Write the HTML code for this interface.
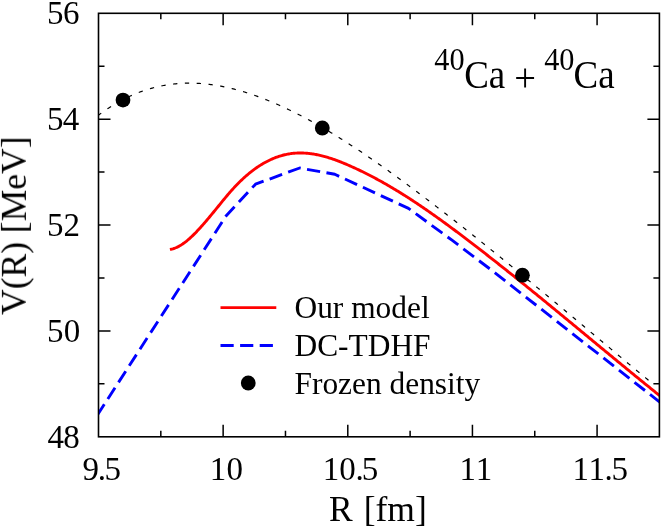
<!DOCTYPE html>
<html><head><meta charset="utf-8"><title>40Ca + 40Ca potential</title>
<style>
html,body{margin:0;padding:0;background:#fff;}
body{width:664px;height:528px;overflow:hidden;}
svg{display:block;}
text{font-family:"Liberation Serif",serif;fill:#000;}
</style></head><body>
<svg width="664" height="528" viewBox="0 0 664 528">
<rect width="664" height="528" fill="#fff"/>
<defs><clipPath id="c"><rect x="98.5" y="13.3" width="560.9" height="423.5"/></clipPath></defs>
<g clip-path="url(#c)" fill="none">
<path d="M98.30,115.30 L99.42,114.46 L100.55,113.63 L101.67,112.82 L102.80,112.01 L103.92,111.22 L105.05,110.44 L106.17,109.67 L107.30,108.91 L108.42,108.17 L109.54,107.44 L110.67,106.72 L111.79,106.01 L112.92,105.32 L114.04,104.63 L115.17,103.96 L116.29,103.30 L117.42,102.65 L118.54,102.02 L119.66,101.39 L120.79,100.78 L121.91,100.17 L123.04,99.58 L124.16,99.00 L125.29,98.44 L126.41,97.88 L127.54,97.33 L128.66,96.80 L129.78,96.28 L130.91,95.76 L132.03,95.26 L133.16,94.77 L134.28,94.29 L135.41,93.83 L136.53,93.37 L137.66,92.92 L138.78,92.49 L139.90,92.06 L141.03,91.65 L142.15,91.24 L143.28,90.85 L144.40,90.47 L145.53,90.09 L146.65,89.73 L147.78,89.38 L148.90,89.04 L150.02,88.71 L151.15,88.38 L152.27,88.07 L153.40,87.77 L154.52,87.48 L155.65,87.20 L156.77,86.93 L157.90,86.67 L159.02,86.42 L160.14,86.17 L161.27,85.94 L162.39,85.72 L163.52,85.51 L164.64,85.30 L165.77,85.11 L166.89,84.92 L168.02,84.75 L169.14,84.58 L170.26,84.43 L171.39,84.28 L172.51,84.14 L173.64,84.01 L174.76,83.89 L175.89,83.78 L177.01,83.68 L178.14,83.59 L179.26,83.50 L180.38,83.43 L181.51,83.36 L182.63,83.30 L183.76,83.25 L184.88,83.21 L186.01,83.18 L187.13,83.16 L188.26,83.14 L189.38,83.14 L190.50,83.14 L191.63,83.15 L192.75,83.17 L193.88,83.19 L195.00,83.23 L196.13,83.27 L197.25,83.32 L198.38,83.38 L199.50,83.45 L200.62,83.52 L201.75,83.60 L202.87,83.69 L204.00,83.79 L205.12,83.90 L206.25,84.01 L207.37,84.13 L208.50,84.26 L209.62,84.40 L210.74,84.54 L211.87,84.69 L212.99,84.85 L214.12,85.01 L215.24,85.19 L216.37,85.36 L217.49,85.55 L218.62,85.75 L219.74,85.95 L220.86,86.15 L221.99,86.37 L223.11,86.59 L224.24,86.82 L225.36,87.05 L226.49,87.30 L227.61,87.54 L228.74,87.80 L229.86,88.06 L230.98,88.33 L232.11,88.60 L233.23,88.88 L234.36,89.17 L235.48,89.46 L236.61,89.76 L237.73,90.07 L238.86,90.38 L239.98,90.70 L241.11,91.03 L242.23,91.36 L243.35,91.69 L244.48,92.03 L245.60,92.38 L246.73,92.74 L247.85,93.09 L248.98,93.46 L250.10,93.83 L251.23,94.21 L252.35,94.59 L253.47,94.98 L254.60,95.37 L255.72,95.77 L256.85,96.17 L257.97,96.58 L259.10,96.99 L260.22,97.41 L261.35,97.83 L262.47,98.26 L263.59,98.70 L264.72,99.14 L265.84,99.58 L266.97,100.03 L268.09,100.48 L269.22,100.94 L270.34,101.40 L271.47,101.87 L272.59,102.34 L273.71,102.82 L274.84,103.30 L275.96,103.79 L277.09,104.28 L278.21,104.77 L279.34,105.27 L280.46,105.78 L281.59,106.29 L282.71,106.80 L283.83,107.32 L284.96,107.84 L286.08,108.37 L287.21,108.90 L288.33,109.43 L289.46,109.97 L290.58,110.52 L291.71,111.06 L292.83,111.61 L293.95,112.17 L295.08,112.73 L296.20,113.29 L297.33,113.86 L298.45,114.44 L299.58,115.01 L300.70,115.59 L301.83,116.18 L302.95,116.76 L304.07,117.36 L305.20,117.95 L306.32,118.55 L307.45,119.16 L308.57,119.76 L309.70,120.37 L310.82,120.99 L311.95,121.61 L313.07,122.23 L314.19,122.86 L315.32,123.49 L316.44,124.12 L317.57,124.76 L318.69,125.40 L319.82,126.04 L320.94,126.69 L322.07,127.34 L323.19,127.99 L324.31,128.65 L325.44,129.31 L326.56,129.97 L327.69,130.64 L328.81,131.31 L329.94,131.99 L331.06,132.66 L332.19,133.34 L333.31,134.03 L334.43,134.72 L335.56,135.41 L336.68,136.10 L337.81,136.79 L338.93,137.49 L340.06,138.20 L341.18,138.90 L342.31,139.61 L343.43,140.32 L344.55,141.03 L345.68,141.75 L346.80,142.47 L347.93,143.19 L349.05,143.92 L350.18,144.65 L351.30,145.38 L352.43,146.11 L353.55,146.85 L354.67,147.59 L355.80,148.33 L356.92,149.07 L358.05,149.82 L359.17,150.57 L360.30,151.32 L361.42,152.07 L362.55,152.83 L363.67,153.59 L364.79,154.35 L365.92,155.12 L367.04,155.88 L368.17,156.65 L369.29,157.42 L370.42,158.19 L371.54,158.97 L372.67,159.75 L373.79,160.53 L374.91,161.31 L376.04,162.09 L377.16,162.88 L378.29,163.67 L379.41,164.46 L380.54,165.25 L381.66,166.04 L382.79,166.84 L383.91,167.64 L385.03,168.44 L386.16,169.24 L387.28,170.04 L388.41,170.85 L389.53,171.66 L390.66,172.46 L391.78,173.28 L392.91,174.09 L394.03,174.90 L395.15,175.72 L396.28,176.54 L397.40,177.35 L398.53,178.17 L399.65,179.00 L400.78,179.82 L401.90,180.65 L403.03,181.47 L404.15,182.30 L405.27,183.13 L406.40,183.96 L407.52,184.79 L408.65,185.63 L409.77,186.46 L410.90,187.30 L412.02,188.13 L413.15,188.97 L414.27,189.81 L415.39,190.65 L416.52,191.50 L417.64,192.34 L418.77,193.18 L419.89,194.03 L421.02,194.88 L422.14,195.73 L423.27,196.58 L424.39,197.43 L425.51,198.28 L426.64,199.13 L427.76,199.99 L428.89,200.84 L430.01,201.70 L431.14,202.56 L432.26,203.42 L433.39,204.28 L434.51,205.14 L435.63,206.00 L436.76,206.86 L437.88,207.73 L439.01,208.59 L440.13,209.46 L441.26,210.33 L442.38,211.20 L443.51,212.07 L444.63,212.94 L445.75,213.81 L446.88,214.68 L448.00,215.56 L449.13,216.43 L450.25,217.31 L451.38,218.18 L452.50,219.06 L453.63,219.94 L454.75,220.82 L455.87,221.70 L457.00,222.59 L458.12,223.47 L459.25,224.35 L460.37,225.24 L461.50,226.12 L462.62,227.01 L463.75,227.90 L464.87,228.79 L465.99,229.67 L467.12,230.57 L468.24,231.46 L469.37,232.35 L470.49,233.24 L471.62,234.14 L472.74,235.03 L473.87,235.93 L474.99,236.82 L476.11,237.72 L477.24,238.62 L478.36,239.52 L479.49,240.42 L480.61,241.32 L481.74,242.22 L482.86,243.12 L483.99,244.02 L485.11,244.92 L486.23,245.83 L487.36,246.73 L488.48,247.64 L489.61,248.55 L490.73,249.45 L491.86,250.36 L492.98,251.27 L494.11,252.18 L495.23,253.09 L496.35,254.00 L497.48,254.91 L498.60,255.82 L499.73,256.74 L500.85,257.65 L501.98,258.56 L503.10,259.48 L504.23,260.39 L505.35,261.31 L506.47,262.23 L507.60,263.14 L508.72,264.06 L509.85,264.98 L510.97,265.90 L512.10,266.82 L513.22,267.74 L514.35,268.66 L515.47,269.58 L516.59,270.50 L517.72,271.43 L518.84,272.35 L519.97,273.27 L521.09,274.20 L522.22,275.12 L523.34,276.05 L524.47,276.97 L525.59,277.90 L526.72,278.82 L527.84,279.75 L528.96,280.68 L530.09,281.61 L531.21,282.53 L532.34,283.46 L533.46,284.39 L534.59,285.32 L535.71,286.25 L536.84,287.18 L537.96,288.11 L539.08,289.04 L540.21,289.98 L541.33,290.91 L542.46,291.84 L543.58,292.77 L544.71,293.70 L545.83,294.64 L546.96,295.57 L548.08,296.51 L549.20,297.44 L550.33,298.37 L551.45,299.31 L552.58,300.25 L553.70,301.18 L554.83,302.12 L555.95,303.05 L557.08,303.99 L558.20,304.93 L559.32,305.86 L560.45,306.80 L561.57,307.74 L562.70,308.67 L563.82,309.61 L564.95,310.55 L566.07,311.49 L567.20,312.43 L568.32,313.37 L569.44,314.30 L570.57,315.24 L571.69,316.18 L572.82,317.12 L573.94,318.06 L575.07,319.00 L576.19,319.94 L577.32,320.88 L578.44,321.82 L579.56,322.76 L580.69,323.70 L581.81,324.64 L582.94,325.58 L584.06,326.52 L585.19,327.46 L586.31,328.40 L587.44,329.34 L588.56,330.28 L589.68,331.22 L590.81,332.17 L591.93,333.11 L593.06,334.05 L594.18,334.99 L595.31,335.93 L596.43,336.87 L597.56,337.81 L598.68,338.75 L599.80,339.69 L600.93,340.63 L602.05,341.57 L603.18,342.51 L604.30,343.45 L605.43,344.39 L606.55,345.33 L607.68,346.27 L608.80,347.21 L609.92,348.16 L611.05,349.09 L612.17,350.03 L613.30,350.97 L614.42,351.91 L615.55,352.85 L616.67,353.79 L617.80,354.73 L618.92,355.67 L620.04,356.61 L621.17,357.55 L622.29,358.49 L623.42,359.43 L624.54,360.36 L625.67,361.30 L626.79,362.24 L627.92,363.18 L629.04,364.11 L630.16,365.05 L631.29,365.99 L632.41,366.92 L633.54,367.86 L634.66,368.80 L635.79,369.73 L636.91,370.67 L638.04,371.60 L639.16,372.54 L640.28,373.47 L641.41,374.40 L642.53,375.34 L643.66,376.27 L644.78,377.20 L645.91,378.14 L647.03,379.07 L648.16,380.00 L649.28,380.93 L650.40,381.86" stroke="#000" stroke-width="1.2" stroke-dasharray="4.3 7.51" stroke-dashoffset="0.63"/>
<path d="M97.10,415.50 L226.00,216.00 L255.50,184.20 L299.70,168.00 L334.80,174.30 L408.50,208.40 L452.00,240.20 L495.00,272.80 L560.00,323.90 L659.40,401.80 L668.00,408.50" stroke="#0000ff" stroke-width="2.9" stroke-dasharray="13.3 6.43" stroke-linejoin="round"/>
<path d="M169.90,249.43 L170.88,249.27 L171.86,249.05 L172.84,248.80 L173.82,248.50 L174.80,248.15 L175.79,247.76 L176.77,247.34 L177.75,246.87 L178.73,246.36 L179.71,245.82 L180.69,245.24 L181.67,244.63 L182.65,243.98 L183.63,243.29 L184.61,242.58 L185.60,241.83 L186.58,241.06 L187.56,240.25 L188.54,239.42 L189.52,238.56 L190.50,237.67 L191.48,236.77 L192.46,235.83 L193.44,234.88 L194.42,233.90 L195.41,232.91 L196.39,231.89 L197.37,230.86 L198.35,229.81 L199.33,228.75 L200.31,227.67 L201.29,226.58 L202.27,225.47 L203.25,224.36 L204.23,223.23 L205.21,222.09 L206.20,220.95 L207.18,219.79 L208.16,218.63 L209.14,217.46 L210.12,216.28 L211.10,215.10 L212.08,213.91 L213.06,212.72 L214.04,211.53 L215.02,210.33 L216.01,209.13 L216.99,207.92 L217.97,206.72 L218.95,205.51 L219.93,204.31 L220.91,203.10 L221.89,201.90 L222.87,200.70 L223.85,199.51 L224.83,198.32 L225.81,197.14 L226.80,195.96 L227.78,194.80 L228.76,193.65 L229.74,192.51 L230.72,191.39 L231.70,190.28 L232.68,189.18 L233.66,188.11 L234.64,187.05 L235.62,186.01 L236.61,184.98 L237.59,183.97 L238.57,182.98 L239.55,182.01 L240.53,181.05 L241.51,180.11 L242.49,179.19 L243.47,178.28 L244.45,177.39 L245.43,176.51 L246.42,175.66 L247.40,174.82 L248.38,173.99 L249.36,173.18 L250.34,172.39 L251.32,171.62 L252.30,170.86 L253.28,170.12 L254.26,169.39 L255.24,168.68 L256.22,167.99 L257.21,167.31 L258.19,166.65 L259.17,166.01 L260.15,165.38 L261.13,164.76 L262.11,164.17 L263.09,163.59 L264.07,163.02 L265.05,162.47 L266.03,161.94 L267.02,161.42 L268.00,160.92 L268.98,160.44 L269.96,159.97 L270.94,159.51 L271.92,159.07 L272.90,158.65 L273.88,158.24 L274.86,157.85 L275.84,157.47 L276.82,157.11 L277.81,156.77 L278.79,156.44 L279.77,156.12 L280.75,155.82 L281.73,155.54 L282.71,155.27 L283.69,155.02 L284.67,154.78 L285.65,154.56 L286.63,154.35 L287.62,154.16 L288.60,153.98 L289.58,153.81 L290.56,153.67 L291.54,153.53 L292.52,153.41 L293.50,153.31 L294.48,153.22 L295.46,153.15 L296.44,153.09 L297.43,153.04 L298.41,153.01 L299.39,152.99 L300.37,152.98 L301.35,152.99 L302.33,153.01 L303.31,153.04 L304.29,153.08 L305.27,153.14 L306.25,153.21 L307.23,153.29 L308.22,153.39 L309.20,153.49 L310.18,153.61 L311.16,153.74 L312.14,153.88 L313.12,154.03 L314.10,154.19 L315.08,154.36 L316.06,154.54 L317.04,154.73 L318.03,154.94 L319.01,155.15 L319.99,155.37 L320.97,155.60 L321.95,155.84 L322.93,156.09 L323.91,156.35 L324.89,156.62 L325.87,156.90 L326.85,157.18 L327.83,157.48 L328.82,157.78 L329.80,158.09 L330.78,158.40 L331.76,158.73 L332.74,159.06 L333.72,159.40 L334.70,159.74 L335.68,160.10 L336.66,160.46 L337.64,160.82 L338.63,161.19 L339.61,161.57 L340.59,161.95 L341.57,162.34 L342.55,162.74 L343.53,163.14 L344.51,163.54 L345.49,163.95 L346.47,164.37 L347.45,164.79 L348.44,165.21 L349.42,165.64 L350.40,166.07 L351.38,166.51 L352.36,166.95 L353.34,167.39 L354.32,167.84 L355.30,168.29 L356.28,168.75 L357.26,169.20 L358.24,169.67 L359.23,170.13 L360.21,170.60 L361.19,171.08 L362.17,171.55 L363.15,172.03 L364.13,172.52 L365.11,173.01 L366.09,173.50 L367.07,173.99 L368.05,174.49 L369.04,174.99 L370.02,175.50 L371.00,176.01 L371.98,176.52 L372.96,177.04 L373.94,177.56 L374.92,178.08 L375.90,178.60 L376.88,179.13 L377.86,179.67 L378.84,180.20 L379.83,180.74 L380.81,181.29 L381.79,181.83 L382.77,182.38 L383.75,182.93 L384.73,183.49 L385.71,184.05 L386.69,184.61 L387.67,185.18 L388.65,185.75 L389.64,186.32 L390.62,186.89 L391.60,187.47 L392.58,188.05 L393.56,188.64 L394.54,189.23 L395.52,189.82 L396.50,190.41 L397.48,191.01 L398.46,191.61 L399.45,192.21 L400.43,192.82 L401.41,193.43 L402.39,194.04 L403.37,194.65 L404.35,195.27 L405.33,195.89 L406.31,196.51 L407.29,197.14 L408.27,197.77 L409.25,198.40 L410.24,199.03 L411.22,199.67 L412.20,200.31 L413.18,200.96 L414.16,201.60 L415.14,202.25 L416.12,202.90 L417.10,203.55 L418.08,204.21 L419.06,204.87 L420.05,205.53 L421.03,206.19 L422.01,206.86 L422.99,207.53 L423.97,208.20 L424.95,208.87 L425.93,209.55 L426.91,210.23 L427.89,210.91 L428.87,211.59 L429.85,212.27 L430.84,212.96 L431.82,213.65 L432.80,214.34 L433.78,215.03 L434.76,215.73 L435.74,216.42 L436.72,217.12 L437.70,217.82 L438.68,218.53 L439.66,219.23 L440.65,219.94 L441.63,220.65 L442.61,221.36 L443.59,222.07 L444.57,222.78 L445.55,223.50 L446.53,224.22 L447.51,224.94 L448.49,225.66 L449.47,226.38 L450.46,227.10 L451.44,227.83 L452.42,228.55 L453.40,229.28 L454.38,230.01 L455.36,230.74 L456.34,231.48 L457.32,232.21 L458.30,232.95 L459.28,233.68 L460.26,234.42 L461.25,235.16 L462.23,235.90 L463.21,236.64 L464.19,237.38 L465.17,238.13 L466.15,238.87 L467.13,239.62 L468.11,240.36 L469.09,241.11 L470.07,241.86 L471.06,242.61 L472.04,243.36 L473.02,244.11 L474.00,244.87 L474.98,245.62 L475.96,246.38 L476.94,247.13 L477.92,247.89 L478.90,248.65 L479.88,249.41 L480.86,250.17 L481.85,250.93 L482.83,251.69 L483.81,252.45 L484.79,253.21 L485.77,253.98 L486.75,254.74 L487.73,255.51 L488.71,256.28 L489.69,257.04 L490.67,257.81 L491.66,258.58 L492.64,259.35 L493.62,260.12 L494.60,260.89 L495.58,261.67 L496.56,262.44 L497.54,263.22 L498.52,263.99 L499.50,264.77 L500.48,265.54 L501.47,266.32 L502.45,267.10 L503.43,267.88 L504.41,268.66 L505.39,269.44 L506.37,270.22 L507.35,271.00 L508.33,271.78 L509.31,272.57 L510.29,273.35 L511.27,274.13 L512.26,274.92 L513.24,275.70 L514.22,276.49 L515.20,277.28 L516.18,278.07 L517.16,278.85 L518.14,279.64 L519.12,280.43 L520.10,281.22 L521.08,282.01 L522.07,282.81 L523.05,283.60 L524.03,284.39 L525.01,285.18 L525.99,285.98 L526.97,286.77 L527.95,287.57 L528.93,288.36 L529.91,289.16 L530.89,289.95 L531.87,290.75 L532.86,291.55 L533.84,292.34 L534.82,293.14 L535.80,293.94 L536.78,294.74 L537.76,295.54 L538.74,296.34 L539.72,297.14 L540.70,297.94 L541.68,298.74 L542.67,299.54 L543.65,300.35 L544.63,301.15 L545.61,301.95 L546.59,302.75 L547.57,303.56 L548.55,304.36 L549.53,305.17 L550.51,305.97 L551.49,306.78 L552.48,307.58 L553.46,308.39 L554.44,309.19 L555.42,310.00 L556.40,310.80 L557.38,311.61 L558.36,312.42 L559.34,313.23 L560.32,314.03 L561.30,314.84 L562.28,315.65 L563.27,316.46 L564.25,317.27 L565.23,318.07 L566.21,318.88 L567.19,319.69 L568.17,320.50 L569.15,321.31 L570.13,322.12 L571.11,322.93 L572.09,323.74 L573.08,324.55 L574.06,325.36 L575.04,326.17 L576.02,326.98 L577.00,327.79 L577.98,328.60 L578.96,329.41 L579.94,330.22 L580.92,331.03 L581.90,331.85 L582.88,332.66 L583.87,333.47 L584.85,334.28 L585.83,335.09 L586.81,335.90 L587.79,336.71 L588.77,337.52 L589.75,338.33 L590.73,339.15 L591.71,339.96 L592.69,340.77 L593.68,341.58 L594.66,342.39 L595.64,343.20 L596.62,344.01 L597.60,344.82 L598.58,345.63 L599.56,346.45 L600.54,347.26 L601.52,348.07 L602.50,348.88 L603.49,349.69 L604.47,350.50 L605.45,351.31 L606.43,352.12 L607.41,352.93 L608.39,353.74 L609.37,354.55 L610.35,355.36 L611.33,356.17 L612.31,356.98 L613.29,357.78 L614.28,358.59 L615.26,359.40 L616.24,360.21 L617.22,361.02 L618.20,361.82 L619.18,362.63 L620.16,363.44 L621.14,364.25 L622.12,365.05 L623.10,365.86 L624.09,366.67 L625.07,367.47 L626.05,368.28 L627.03,369.08 L628.01,369.89 L628.99,370.69 L629.97,371.50 L630.95,372.30 L631.93,373.10 L632.91,373.91 L633.89,374.71 L634.88,375.51 L635.86,376.31 L636.84,377.11 L637.82,377.92 L638.80,378.72 L639.78,379.52 L640.76,380.32 L641.74,381.12 L642.72,381.91 L643.70,382.71 L644.69,383.51 L645.67,384.31 L646.65,385.11 L647.63,385.90 L648.61,386.70 L649.59,387.49 L650.57,388.29 L651.55,389.08 L652.53,389.88 L653.51,390.67 L654.50,391.46 L655.48,392.26 L656.46,393.05 L657.44,393.84 L658.42,394.63 L659.40,395.42 L668.00,402.54" stroke="#ff0000" stroke-width="2.9"/>
</g>
<g fill="#000"><circle cx="123" cy="100.1" r="7.4"/><circle cx="322.3" cy="128.0" r="7.4"/><circle cx="522.4" cy="275.2" r="7.4"/><circle cx="248.25" cy="383" r="7.4"/></g>
<path d="M160.82,436.8 v-6 M160.82,13.3 v6 M223.14,436.8 v-12 M223.14,13.3 v12 M285.47,436.8 v-6 M285.47,13.3 v6 M347.79,436.8 v-12 M347.79,13.3 v12 M410.11,436.8 v-6 M410.11,13.3 v6 M472.43,436.8 v-12 M472.43,13.3 v12 M534.76,436.8 v-6 M534.76,13.3 v6 M597.08,436.8 v-12 M597.08,13.3 v12 M98.5,383.86 h6 M659.4,383.86 h-6 M98.5,330.93 h12 M659.4,330.93 h-12 M98.5,277.99 h6 M659.4,277.99 h-6 M98.5,225.05 h12 M659.4,225.05 h-12 M98.5,172.11 h6 M659.4,172.11 h-6 M98.5,119.18 h12 M659.4,119.18 h-12 M98.5,66.24 h6 M659.4,66.24 h-6" stroke="#000" stroke-width="1.5" fill="none"/>
<rect x="98.5" y="13.3" width="560.9" height="423.5" fill="none" stroke="#000" stroke-width="1.6"/>
<g opacity="0.999">
<g font-size="33.0">
<text x="82.55 97.78 104.49" y="480">9.5</text>
<text x="209.79 226.50" y="480">10</text>
<text x="322.84 339.30 355.48 361.74" y="480">10.5</text>
<text x="459.44 475.79" y="480">11</text>
<text x="572.49 588.49 604.58 611.54" y="480">11.5</text>
<text x="47.38 63.15" y="448.30">48</text>
<text x="47.09 63.75" y="342.43">50</text>
<text x="47.09 63.53" y="236.45">52</text>
<text x="47.09 62.63" y="130.18">54</text>
<text x="46.94 62.93" y="24.10">56</text>
</g>
<g font-size="35.5">
<text x="328.9" y="520.6">R</text>
<text x="363.7" y="520.5">[fm]</text>
<text transform="translate(25.9,225.7) rotate(-90)" text-anchor="middle">V(R) [MeV]</text>
</g>
<g font-size="37" transform="translate(0,88.2) scale(1,1.055)">
<text x="434.3" y="-17.4" font-size="30.3">40</text>
<text x="464.2" y="0">Ca</text>
<text x="514.2" y="2.4" font-size="38.5">+</text>
<text x="544.2" y="-17.4" font-size="30.3">40</text>
<text x="573.6" y="0">Ca</text>
</g>
<path d="M220.5,307.6 H276.3" stroke="#ff0000" stroke-width="2.9"/>
<path d="M220.5,345.5 H276.3" stroke="#0000ff" stroke-width="2.9" stroke-dasharray="13.2 6.4"/>
<g font-size="31.4">
<text x="294.5" y="318.4">Our model</text>
<text x="294.5" y="355.9">DC-TDHF</text>
<text x="294.5" y="393.8">Frozen density</text>
</g>
</g>
</svg>
</body></html>
